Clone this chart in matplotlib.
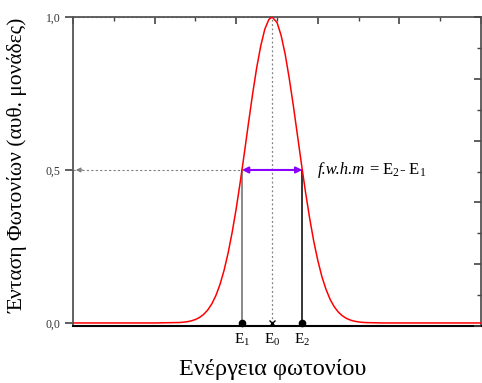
import matplotlib.pyplot as plt
from matplotlib.ticker import MultipleLocator

plt.rcParams['font.family'] = ['Liberation Serif', 'DejaVu Serif']
plt.rcParams['mathtext.fontset'] = 'custom'
plt.rcParams['mathtext.rm'] = 'Liberation Serif'
plt.rcParams['mathtext.it'] = 'Liberation Serif:italic'

# photon energy (arb.) and intensity
energy = [0.0, 1.0, 1.3, 1.35, 1.4, 1.45, 1.5, 1.55, 1.6, 1.65, 1.7, 1.75, 1.8, 1.85,
          1.9, 1.95, 2.0, 2.05, 2.1, 2.15, 2.2, 2.25, 2.3, 2.35, 2.4, 2.44, 2.5, 2.55,
          2.6, 2.65, 2.7, 2.75, 2.8, 2.85, 2.9, 2.95, 3.0, 3.05, 3.1, 3.15, 3.2, 3.25,
          3.3, 3.35, 3.4, 3.45, 3.5, 3.55, 3.6, 3.8, 5.0]
intensity = [0.0, 0.0, 0.0014, 0.0024, 0.0041, 0.0069, 0.0113, 0.0179, 0.0278, 0.0421,
             0.062, 0.0892, 0.125, 0.171, 0.228, 0.296, 0.374, 0.462, 0.556, 0.653,
             0.747, 0.833, 0.905, 0.96, 0.992, 1.0, 0.982, 0.94, 0.878, 0.799, 0.71,
             0.614, 0.518, 0.426, 0.342, 0.267, 0.204, 0.151, 0.11, 0.0774, 0.0533,
             0.0358, 0.0234, 0.0149, 0.0093, 0.0056, 0.0033, 0.0019, 0.0011, 0.0, 0.0]

e1, e0, e2 = 2.07, 2.44, 2.81
half = 0.5
peak = 1.0

fig = plt.figure(figsize=(4.82, 3.83), dpi=100)
ax = fig.add_axes([0.1515, 0.1488, 0.8465, 0.8068])

ax.plot(energy, intensity, color='red', lw=1.1, zorder=3)

# guide lines
ax.plot([0, e0], [peak, peak], color='gray', ls=(0, (2, 2)), lw=0.8)
ax.plot([0, e1], [half, half], color='gray', ls=(0, (2, 2)), lw=0.8)
ax.annotate('', xy=(0.0, half), xytext=(0.15, half),
            arrowprops=dict(arrowstyle='-|>', color='gray', lw=0.8, mutation_scale=7))
ax.plot([e0, e0], [0, peak], color='gray', ls=(0, (1.5, 2)), lw=0.9)
ax.plot([e1, e1], [0, half], color='dimgray', lw=1.1)
ax.plot([e2, e2], [0, half], color='black', lw=1.1)
ax.annotate('', xy=(e1, half), xytext=(e2, half),
            arrowprops=dict(arrowstyle='<|-|>', color='#8a00ff', lw=1.5, mutation_scale=9,
                            shrinkA=0, shrinkB=0), zorder=4)

ax.plot([e1, e2], [0, 0], 'o', color='black', ms=4.5, clip_on=False, zorder=5)
ax.plot([e0], [0], 'x', color='black', ms=4, mew=1.0, clip_on=False, zorder=5)

for xv, lab in [(e1, r'E$_1$'), (e0, r'E$_0$'), (e2, r'E$_2$')]:
    ax.text(xv, -0.055, lab, ha='center', va='center', fontsize=11)

t1 = ax.text(3.0, half, 'f.w.h.m', style='italic', ha='left', va='center', fontsize=12)
ax.annotate(r' = E$_2$- E$_1$', xy=(1, 0.5), xycoords=t1, ha='left', va='center',
            fontsize=12)

ax.set_xlim(0, 5)
ax.set_ylim(-0.01, 1.0)

ax.set_yticks([0.0, 0.5, 1.0])
ax.set_yticklabels(['0,0', '0,5', '1,0'], fontsize=8.5, color='#333333')
ax.tick_params(axis='y', direction='out', length=6, width=1.2, color='#444444', pad=3)
ax.xaxis.set_ticks_position('top')
ax.xaxis.set_major_locator(MultipleLocator(1))
ax.xaxis.set_minor_locator(MultipleLocator(0.5))
ax.tick_params(axis='x', which='major', direction='in', length=5, width=1.2,
               color='#444444', labeltop=False, labelbottom=False)
ax.tick_params(axis='x', which='minor', direction='in', length=3, width=1.0, color='#444444')

ax2 = ax.twinx()
ax2.set_ylim(0, 1)
ax2.yaxis.set_major_locator(MultipleLocator(0.2))
ax2.yaxis.set_minor_locator(MultipleLocator(0.1))
ax2.tick_params(axis='y', which='major', direction='in', length=5, width=1.2,
                color='#444444', labelright=False)
ax2.tick_params(axis='y', which='minor', direction='in', length=3, width=1.0, color='#444444')
for s in ax2.spines.values():
    s.set_visible(False)

for side in ['left', 'top', 'right']:
    ax.spines[side].set_color('#555555')
    ax.spines[side].set_linewidth(1.3)
ax.spines['bottom'].set_color('black')
ax.spines['bottom'].set_linewidth(1.5)

fig.text(0.565, 0.034, 'Ενέργεια φωτονίου', ha='center', va='center', fontsize=17.5)
fig.text(0.037, 0.569, 'Ένταση Φωτονίων (αυθ. μονάδες)', ha='center', va='center',
         rotation=90, fontsize=15.5)

fig.savefig('out.png', dpi=100)
